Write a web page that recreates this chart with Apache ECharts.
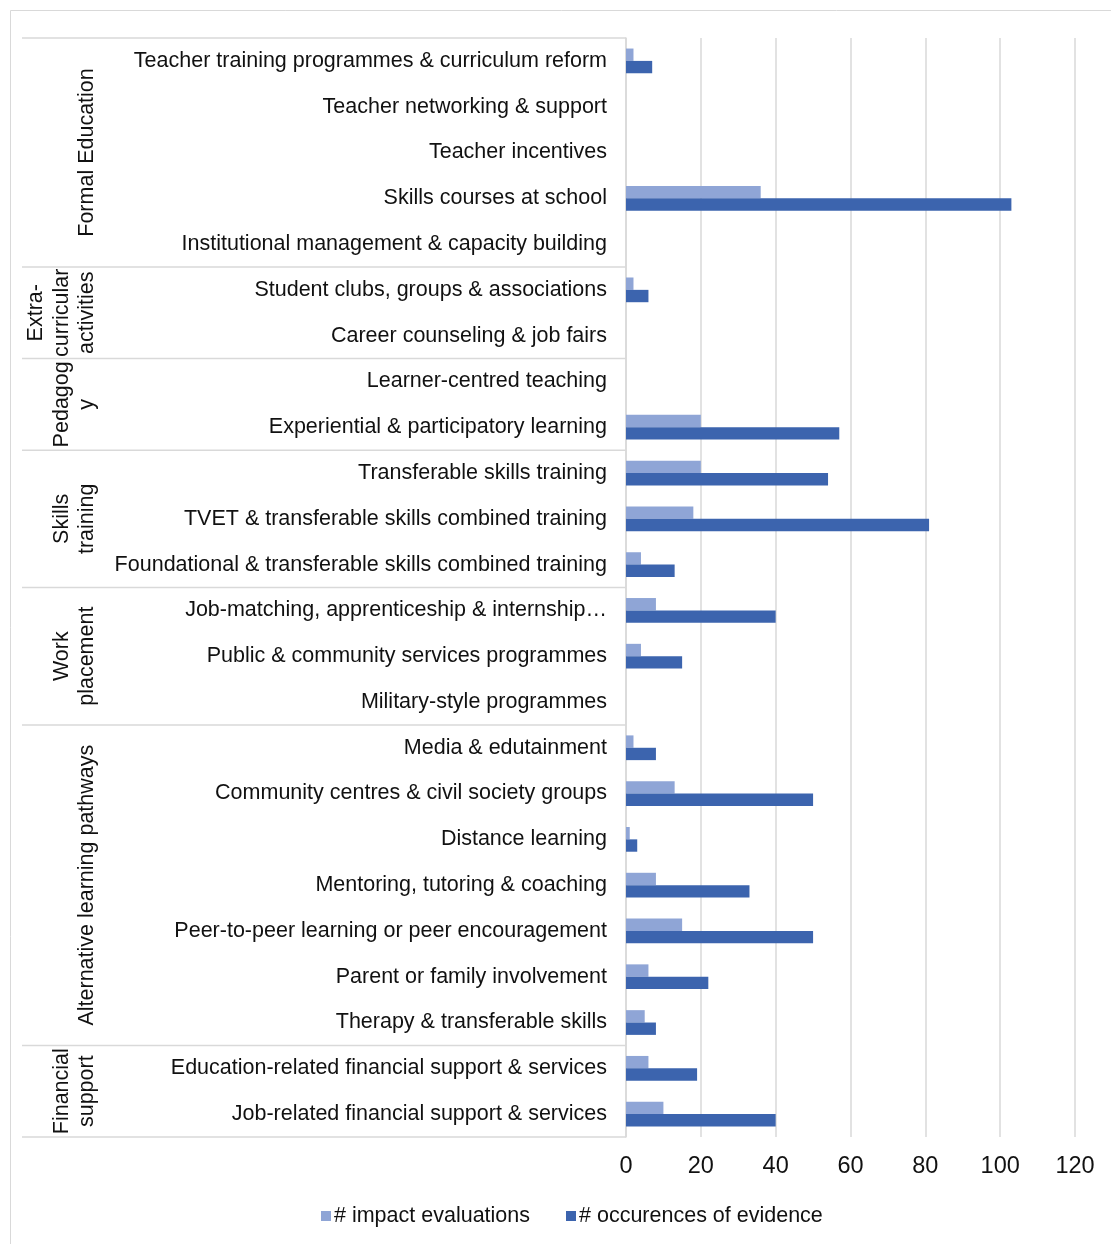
<!DOCTYPE html>
<html><head><meta charset="utf-8">
<script src="https://cdn.jsdelivr.net/npm/echarts@6/dist/echarts.min.js"></script>
<style>html,body{margin:0;padding:0;background:#fff}#c{width:1111px;height:1244px}</style>
</head><body><div id="c"></div>
<script>
const categories = [
  'Teacher training programmes & curriculum reform',
  'Teacher networking & support',
  'Teacher incentives',
  'Skills courses at school',
  'Institutional management & capacity building',
  'Student clubs, groups & associations',
  'Career counseling & job fairs',
  'Learner-centred teaching',
  'Experiential & participatory learning',
  'Transferable skills training',
  'TVET & transferable skills combined training',
  'Foundational & transferable skills combined training',
  'Job-matching, apprenticeship & internship\u2026',
  'Public & community services programmes',
  'Military-style programmes',
  'Media & edutainment',
  'Community centres & civil society groups',
  'Distance learning',
  'Mentoring, tutoring & coaching',
  'Peer-to-peer learning or peer encouragement',
  'Parent or family involvement',
  'Therapy & transferable skills',
  'Education-related financial support & services',
  'Job-related financial support & services'
];
const groupNames = ['Formal Education', 'Extra-\ncurricular\nactivities', 'Pedagog\ny', 'Skills\ntraining', 'Work\nplacement', 'Alternative learning pathways', 'Financial\nsupport'];
const groupSizes = [5, 2, 2, 3, 3, 7, 2];
const impactEvaluations = [2,0,0,36,0,2,0,0,20,20,18,4,8,4,0,2,13,1,8,15,6,5,6,10];
const occurrences = [7,0,0,103,0,6,0,0,57,54,81,13,40,15,0,8,50,3,33,50,22,8,19,40];
const xTicks = [0, 20, 40, 60, 80, 100, 120];
const seriesNames = ['# impact evaluations', '# occurences of evidence'];

const FONT = 'Liberation Sans, Arial, sans-serif';
const chart = echarts.init(document.getElementById('c'));
const option = {
  animation: false,
  backgroundColor: '#fff',
  textStyle: { fontFamily: FONT },
  grid: { left: 626, right: 36, top: 38, bottom: 107, containLabel: false },
  legend: {
    data: seriesNames,
    left: 316, top: 1200,
    itemWidth: 10, itemHeight: 10, itemGap: 36,
    icon: 'rect',
    textStyle: { fontSize: 21.5, color: '#111', fontFamily: FONT, padding: [0,0,0,-2] }
  },
  xAxis: {
    type: 'value', min: xTicks[0], max: xTicks[xTicks.length-1], interval: 20,
    axisLine: { show: false }, axisTick: { show: false },
    axisLabel: { fontSize: 23.5, color: '#111', margin: 18, fontFamily: FONT },
    splitLine: { lineStyle: { color: '#D9D9D9', width: 1.5 } }
  },
  yAxis: {
    type: 'category', data: categories, inverse: true,
    axisLine: { show: true, lineStyle: { color: '#D9D9D9', width: 1.5 } },
    axisTick: { show: false },
    axisLabel: { fontSize: 21.5, color: '#111', margin: 19, fontFamily: FONT, interval: 0, padding: [4, 0, 0, 0] }
  },
  series: [
    { name: seriesNames[0], type: 'bar', data: impactEvaluations, barGap: '0%', barCategoryGap: '46%',
      itemStyle: { color: '#8FA5D6' } },
    { name: seriesNames[1], type: 'bar', data: occurrences, barGap: '0%', barCategoryGap: '46%',
      itemStyle: { color: '#3C64AE' } }
  ]
};
chart.setOption(option);

// group separators and labels, positioned via the category axis
const graphics = [{ type: 'rect', shape: { x: 10.5, y: 10.5, width: 1110, height: 1250 }, style: { fill: 'none', stroke: '#D9D9D9', lineWidth: 1 }, silent: true }];
const p0 = chart.convertToPixel({ yAxisIndex: 0 }, categories[0]);
const p1 = chart.convertToPixel({ yAxisIndex: 0 }, categories[1]);
const band = p1 - p0;
let yTop = p0 - band / 2;
graphics.push({ type: 'line', shape: { x1: 22, y1: yTop, x2: 626, y2: yTop }, style: { stroke: '#D9D9D9', lineWidth: 1.5 }, silent: true });
groupSizes.forEach((n, g) => {
  const yBottom = yTop + band * n;
  graphics.push({ type: 'line', shape: { x1: 22, y1: yBottom, x2: 626, y2: yBottom }, style: { stroke: '#D9D9D9', lineWidth: 1.5 }, silent: true });
  graphics.push({
    type: 'text', x: 100, y: (yTop + yBottom) / 2, rotation: Math.PI / 2,
    style: { text: groupNames[g], fontSize: 21.5, fontFamily: FONT, fill: '#111', align: 'center', verticalAlign: 'bottom', lineHeight: 25.5 },
    silent: true
  });
  yTop = yBottom;
});
chart.setOption({ graphic: graphics });
</script>
</body></html>
